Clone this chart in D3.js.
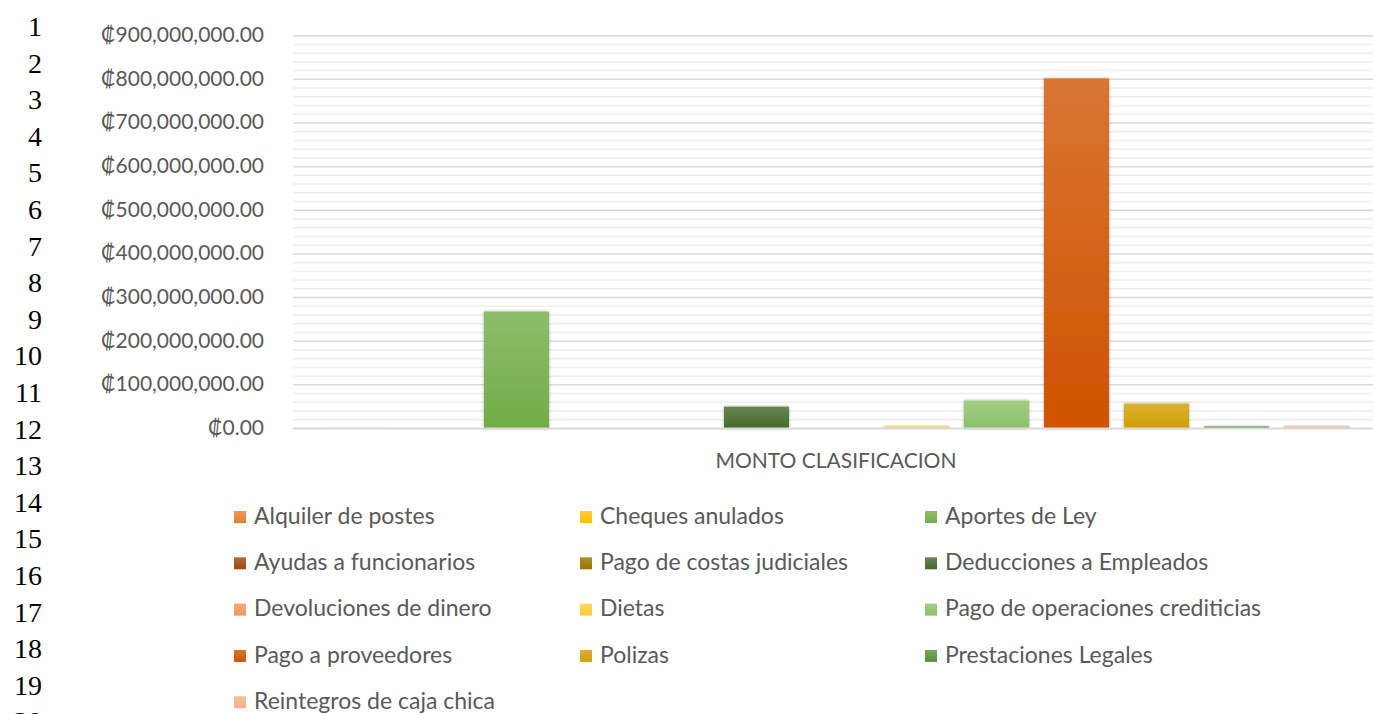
<!DOCTYPE html>
<html>
<head>
<meta charset="utf-8">
<script src="https://cdn.jsdelivr.net/npm/d3@7"></script>
<style>
  body { margin: 0; background: #fff; }
  svg { display: block; }
</style>
</head>
<body>
<svg id="chart" width="1373" height="714"></svg>
<script>
// series (one bar each, single category)
const series = [
  "Alquiler de postes", "Cheques anulados", "Aportes de Ley",
  "Ayudas a funcionarios", "Pago de costas judiciales", "Deducciones a Empleados",
  "Devoluciones de dinero", "Dietas", "Pago de operaciones crediticias",
  "Pago a proveedores", "Polizas", "Prestaciones Legales",
  "Reintegros de caja chica"
];
const montos = [
  1200000, 300000, 268000000,
  500000, 400000, 50000000,
  600000, 5000000, 64000000,
  802000000, 57000000, 5000000,
  5000000
];
const colores = [
  "#ED7D31", "#FFC000", "#70AD47",
  "#9E480E", "#997300", "#43682B",
  "#F1975A", "#FFCD33", "#8CC168",
  "#D05200", "#D29D00", "#558F3C",
  "#F4B183"
];
const yTicks = [0, 100000000, 200000000, 300000000, 400000000, 500000000, 600000000, 700000000, 800000000, 900000000];
const categoria = "MONTO CLASIFICACION";
const filas = d3.range(1, 21);

const svg = d3.select("#chart");
const font = "Lato, 'Open Sans', sans-serif";

// spreadsheet row numbers on the left
svg.selectAll("text.fila")
  .data(filas)
  .enter()
  .append("text")
  .attr("class", "fila")
  .attr("x", 42)
  .attr("y", d => 36 + (d - 1) * 36.6)
  .attr("text-anchor", "end")
  .style("font-family", "'Liberation Serif', 'Times New Roman', serif")
  .style("font-size", "28px")
  .style("fill", "#000")
  .text(d => d);

const plot = { left: 293, right: 1373, top: 35.7, bottom: 428.5 };

const y = d3.scaleLinear().domain([0, 900000000]).range([plot.bottom, plot.top]);
const x = d3.scaleBand()
  .domain(series)
  .range([316.5, 1356.5])
  .paddingInner(0.1875)
  .paddingOuter(0.09375);

const fmt = d3.format(",.2f");

// minor gridlines every 20M
const minor = d3.range(0, 900000001, 20000000).filter(v => v % 100000000 !== 0);
svg.append("g")
  .selectAll("line")
  .data(minor)
  .enter()
  .append("line")
  .attr("x1", plot.left).attr("x2", plot.right)
  .attr("y1", d => y(d)).attr("y2", d => y(d))
  .attr("stroke", "#eeeeee")
  .attr("stroke-width", 1.5);

// major gridlines
svg.append("g")
  .selectAll("line")
  .data(yTicks.filter(v => v > 0))
  .enter()
  .append("line")
  .attr("x1", plot.left).attr("x2", plot.right)
  .attr("y1", d => y(d)).attr("y2", d => y(d))
  .attr("stroke", "#d9d9d9")
  .attr("stroke-width", 1.5);

// y tick labels
svg.append("g")
  .selectAll("text")
  .data(yTicks)
  .enter()
  .append("text")
  .attr("x", 264)
  .attr("y", d => y(d) + 1)
  .attr("text-anchor", "end")
  .attr("dominant-baseline", "middle")
  .style("font-family", font)
  .style("font-size", "21px")
  .style("fill", "#595959")
  .text(d => "₡" + fmt(d));

// gradients + shadow
const defs = svg.append("defs");
const filt = defs.append("filter").attr("id", "sombra")
  .attr("x", "-20%").attr("y", "-20%").attr("width", "140%").attr("height", "140%");
filt.append("feDropShadow")
  .attr("dx", 0).attr("dy", 0).attr("stdDeviation", 1.6)
  .attr("flood-color", "#000").attr("flood-opacity", 0.35);

series.forEach((s, i) => {
  const g = defs.append("linearGradient")
    .attr("id", "grad" + i)
    .attr("x1", 0).attr("y1", 0).attr("x2", 0).attr("y2", 1);
  g.append("stop").attr("offset", "0%").attr("stop-color", d3.interpolateRgb(colores[i], "#fff")(0.2));
  g.append("stop").attr("offset", "100%").attr("stop-color", colores[i]);
});

// bars
svg.append("g")
  .selectAll("rect")
  .data(series)
  .enter()
  .append("rect")
  .attr("x", d => x(d))
  .attr("width", x.bandwidth())
  .attr("y", (d, i) => y(montos[i]))
  .attr("height", (d, i) => Math.max(0, plot.bottom - y(montos[i])))
  .attr("fill", (d, i) => "url(#grad" + i + ")")
  .attr("filter", "url(#sombra)");

// baseline axis
svg.append("line")
  .attr("x1", plot.left).attr("x2", plot.right)
  .attr("y1", plot.bottom).attr("y2", plot.bottom)
  .attr("stroke", "#d9d9d9")
  .attr("stroke-width", 2);

// category label
svg.append("text")
  .attr("x", 836)
  .attr("y", 463)
  .attr("text-anchor", "middle")
  .attr("dominant-baseline", "middle")
  .style("font-family", font)
  .style("font-size", "21px")
  .style("fill", "#595959")
  .text(categoria);

// legend, 3 columns
const legX = [234, 580, 925];
const legend = svg.append("g")
  .selectAll("g")
  .data(series)
  .enter()
  .append("g")
  .attr("transform", (d, i) => `translate(${legX[i % 3]},${517 + Math.floor(i / 3) * 46.3})`);

legend.append("rect")
  .attr("x", 0).attr("y", -6)
  .attr("width", 12).attr("height", 12)
  .attr("fill", (d, i) => "url(#grad" + i + ")");

legend.append("text")
  .attr("x", 20)
  .attr("y", 1)
  .attr("dominant-baseline", "middle")
  .style("font-family", font)
  .style("font-size", "23px")
  .style("fill", "#595959")
  .text(d => d);
</script>
</body>
</html>
